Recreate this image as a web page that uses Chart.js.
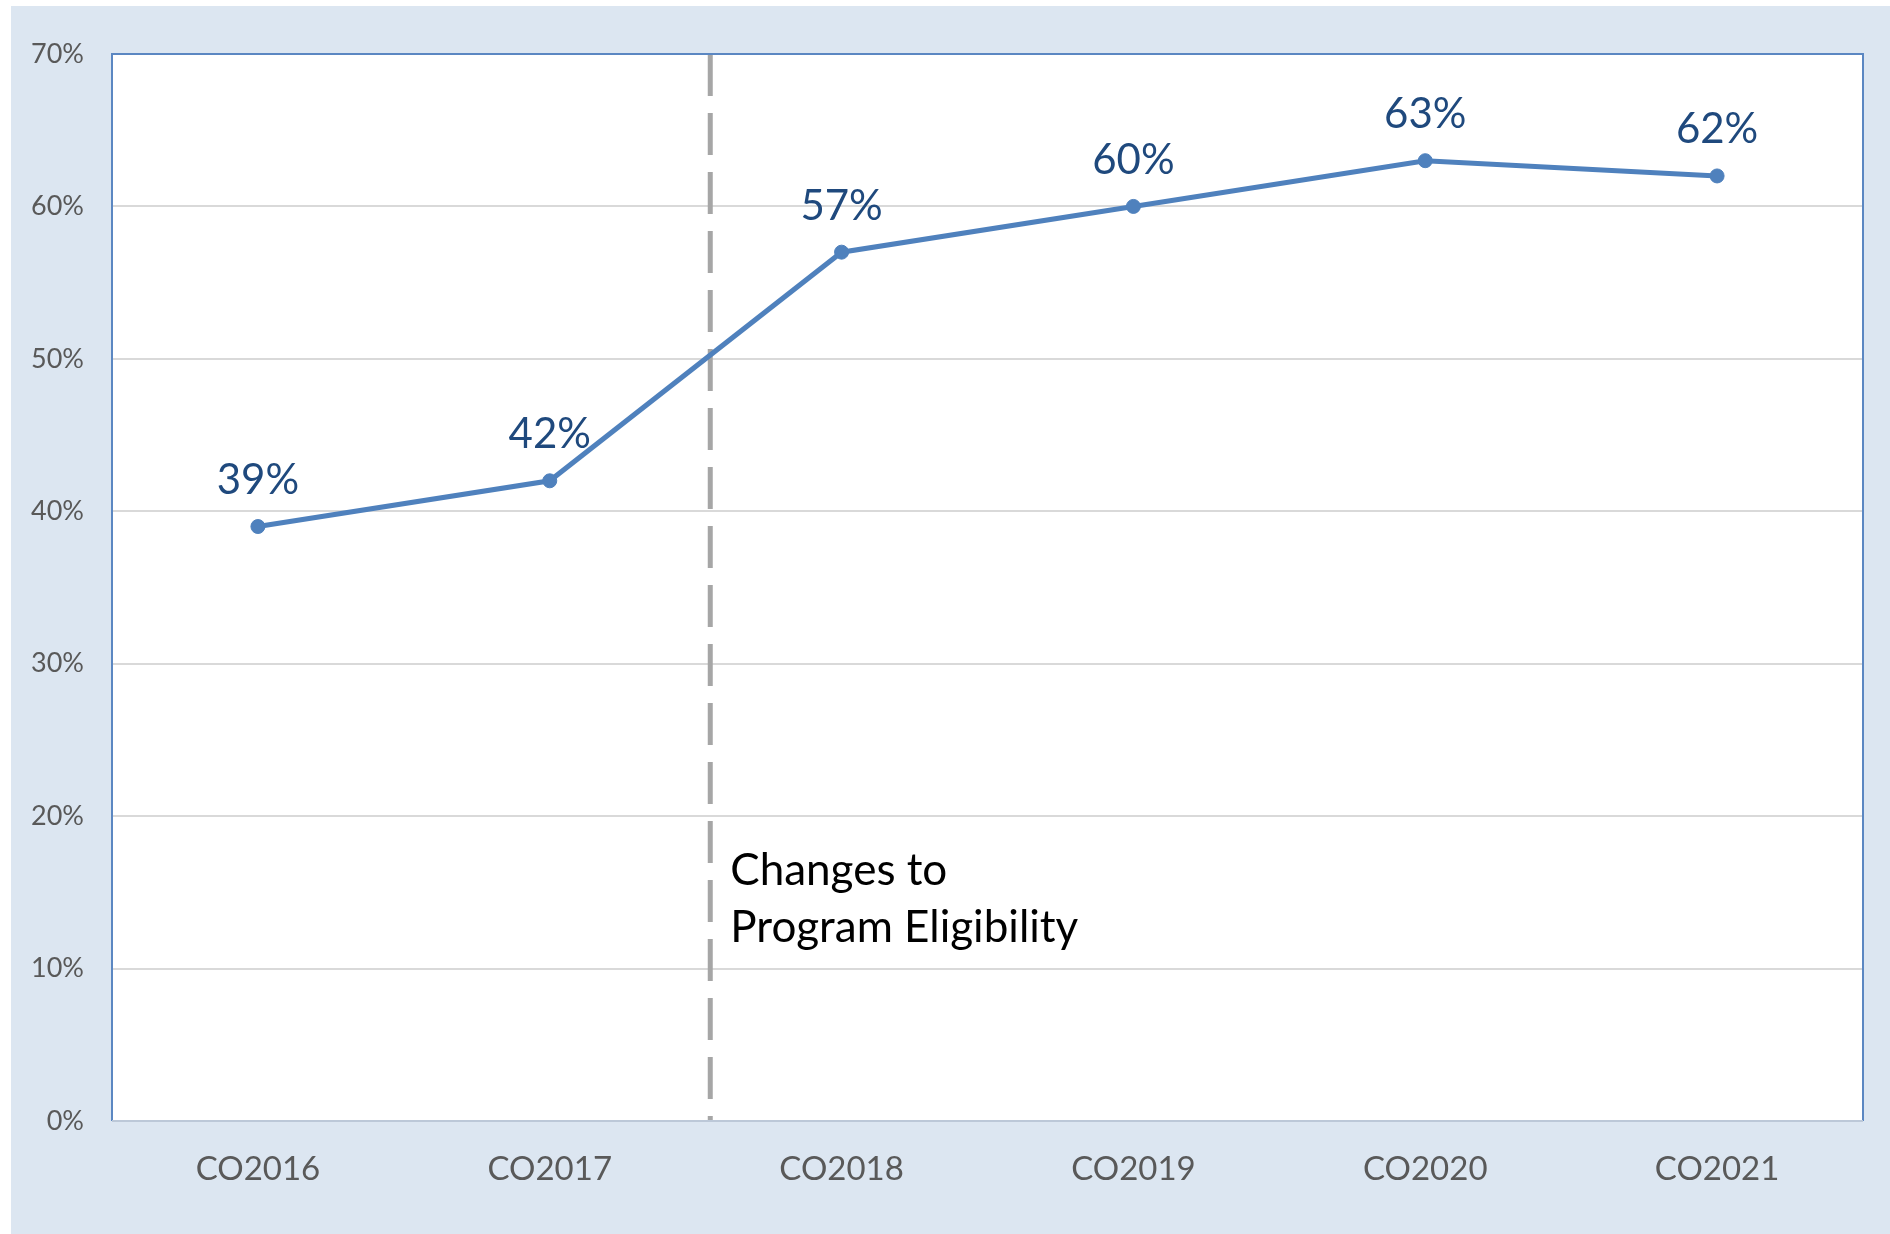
<!DOCTYPE html>
<html>
<head>
<meta charset="utf-8">
<script src="https://cdn.jsdelivr.net/npm/chart.js"></script>
<style>
  html, body { margin: 0; padding: 0; background: #ffffff; }
  #wrap { position: absolute; left: 11px; top: 6px; width: 1879px; height: 1228px; background: #dce6f1; }
</style>
</head>
<body>
<div id="wrap"><canvas id="myChart" width="1879" height="1228"></canvas></div>
<script>
const cohorts = ['CO2016', 'CO2017', 'CO2018', 'CO2019', 'CO2020', 'CO2021'];
const shareValues = [0.39, 0.42, 0.57, 0.60, 0.63, 0.62];
const yTicks = [0, 0.1, 0.2, 0.3, 0.4, 0.5, 0.6, 0.7];
const changeAt = 1.55; // just past the CO2017/CO2018 midpoint
const changeNote = ['Changes to', 'Program Eligibility'];

const FONT = 'Lato, "Open Sans", sans-serif';

// white plot area, frame, and the eligibility marker
const framePlugin = {
    id: 'frame',
    beforeDraw(chart) {
        const { ctx, chartArea: a } = chart;
        ctx.save();
        ctx.fillStyle = '#ffffff';
        ctx.fillRect(a.left, a.top, a.right - a.left, a.bottom - a.top);
        ctx.restore();
    },
    beforeDatasetsDraw(chart) {
        const { ctx, chartArea: a, scales } = chart;
        const x = scales.x.getPixelForValue(changeAt);
        ctx.save();
        ctx.strokeStyle = '#a6a6a6';
        ctx.lineWidth = 5;
        ctx.setLineDash([42, 17]);
        ctx.beginPath();
        ctx.moveTo(x, a.top);
        ctx.lineTo(x, a.bottom);
        ctx.stroke();
        ctx.setLineDash([]);

        ctx.fillStyle = '#000000';
        ctx.font = '44px ' + FONT;
        ctx.textAlign = 'left';
        ctx.textBaseline = 'alphabetic';
        const y0 = scales.y.getPixelForValue(0.155);
        changeNote.forEach((t, i) => ctx.fillText(t, x + 20, y0 + i * 57));
        ctx.restore();
    },
    afterDraw(chart) {
        const { ctx, chartArea: a } = chart;
        ctx.save();
        ctx.lineWidth = 2;
        ctx.strokeStyle = '#5b87c2';
        ctx.beginPath();
        ctx.moveTo(a.left, a.bottom);
        ctx.lineTo(a.left, a.top);
        ctx.lineTo(a.right, a.top);
        ctx.lineTo(a.right, a.bottom);
        ctx.stroke();
        ctx.strokeStyle = '#bcc8d8';
        ctx.beginPath();
        ctx.moveTo(a.left, a.bottom);
        ctx.lineTo(a.right, a.bottom);
        ctx.stroke();
        ctx.restore();
    }
};

// value labels over each point
const labelPlugin = {
    id: 'pointLabels',
    afterDatasetsDraw(chart) {
        const { ctx } = chart;
        const meta = chart.getDatasetMeta(0);
        ctx.save();
        ctx.fillStyle = '#1f497d';
        ctx.font = '42px ' + FONT;
        ctx.textAlign = 'center';
        ctx.textBaseline = 'middle';
        meta.data.forEach((pt, i) => {
            ctx.fillText(Math.round(shareValues[i] * 100) + '%', pt.x, pt.y - 46);
        });
        ctx.restore();
    }
};

const ctx = document.getElementById('myChart').getContext('2d');
const myChart = new Chart(ctx, {
    type: 'line',
    data: {
        labels: cohorts,
        datasets: [{
            data: shareValues,
            borderColor: '#4f81bd',
            backgroundColor: '#4f81bd',
            borderWidth: 5,
            pointRadius: 7,
            pointBorderWidth: 1,
            pointHoverRadius: 7,
            tension: 0
        }]
    },
    options: {
        responsive: false,
        animation: false,
        layout: { padding: { top: 48, right: 27, left: 0, bottom: 0 } },
        plugins: {
            legend: { display: false },
            tooltip: { enabled: false }
        },
        scales: {
            x: {
                offset: true,
                grid: { display: false, drawTicks: false },
                border: { display: false },
                ticks: {
                    color: '#595959',
                    font: { family: FONT, size: 33 },
                    padding: 29
                },
                afterFit(scale) { scale.height = 113; }
            },
            y: {
                min: 0,
                max: 0.7,
                afterBuildTicks(scale) { scale.ticks = yTicks.map(v => ({ value: v })); },
                grid: { color: '#d9d9d9', lineWidth: 2, drawTicks: false },
                border: { display: false },
                ticks: {
                    color: '#595959',
                    font: { family: FONT, size: 27 },
                    padding: 28,
                    callback: v => Math.round(v * 100) + '%'
                },
                afterFit(scale) { scale.width = 101; }
            }
        }
    },
    plugins: [framePlugin, labelPlugin]
});
</script>
</body>
</html>
